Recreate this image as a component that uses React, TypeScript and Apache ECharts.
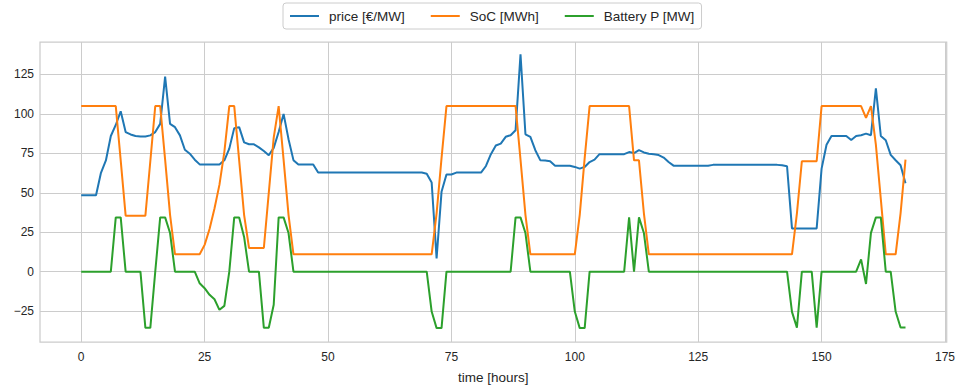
import React, { useEffect, useRef } from "react";
import * as echarts from "echarts";

const FONT = "'Liberation Sans', Arial, sans-serif";

const seriesNames = ["price [€/MW]", "SoC [MWh]", "Battery P [MW]"];
const seriesColors = ["#1f77b4", "#ff7f0e", "#2ca02c"];

const xTicks = [0, 25, 50, 75, 100, 125, 150, 175];
const yTicks = [-25, 0, 25, 50, 75, 100, 125];

// hour index of every sample (0 .. 167)
const hours = Array.from({ length: 168 }, (_, i) => i);

const price = [
  48.4, 48.4, 48.4, 48.4, 62.7, 70.5, 86, 93, 101.7, 88.5,
  87, 86, 85.7, 85.7, 86.4, 88.5, 93.7, 123.6, 93.7, 91.6,
  86.4, 77.3, 74.8, 71, 68, 68, 68, 68, 68, 70.6,
  78, 91, 91.6, 82, 80.8, 80.7, 78.8, 76.5, 73.8, 78.5,
  88.5, 100, 84, 70.7, 68, 68, 68, 68, 62.8, 62.8,
  62.8, 62.8, 62.8, 62.8, 62.8, 62.8, 62.8, 62.8, 62.8, 62.8,
  62.8, 62.8, 62.8, 62.8, 62.8, 62.8, 62.8, 62.8, 62.8, 62.8,
  62.1, 56.5, 8.4, 50.6, 61.6, 61.6, 62.8, 62.8, 62.8, 62.8,
  62.8, 62.8, 67, 74.5, 80, 81.2, 85.5, 86.5, 89.6, 137.8,
  87.1, 85.4, 77, 70.7, 70.4, 70, 67.2, 67.2, 67.2, 67.2,
  66.4, 65.3, 66.4, 69.5, 71, 74.5, 74.5, 74.5, 74.5, 74.5,
  74.5, 75.8, 75.2, 77, 75.6, 74.8, 74.4, 73.9, 72.3, 69.5,
  67.2, 67.2, 67.2, 67.2, 67.2, 67.2, 67.2, 67.2, 67.7, 67.7,
  67.7, 67.7, 67.7, 67.7, 67.7, 67.7, 67.7, 67.7, 67.7, 67.7,
  67.7, 67.7, 67.4, 66.8, 27.4, 27.4, 27.4, 27.4, 27.4, 27.4,
  65.3, 80.5, 86, 86, 86, 86, 83.5, 86, 86.5, 87.5,
  86.5, 116.2, 86, 83.3, 74, 70.6, 67.5, 56,
];

const soc = [
  105, 105, 105, 105, 105, 105, 105, 105, 70.5, 35.5,
  35.5, 35.5, 35.5, 35.5, 70, 105, 105, 71, 36, 11,
  11, 11, 11, 11, 11, 17, 27, 40, 55, 76,
  105, 105, 70.5, 36, 15, 15, 15, 15, 50, 85,
  105, 71, 36, 11, 11, 11, 11, 11, 11, 11,
  11, 11, 11, 11, 11, 11, 11, 11, 11, 11,
  11, 11, 11, 11, 11, 11, 11, 11, 11, 11,
  11, 11, 37, 72, 105, 105, 105, 105, 105, 105,
  105, 105, 105, 105, 105, 105, 105, 105, 105, 71,
  36, 11, 11, 11, 11, 11, 11, 11, 11, 11,
  11, 36, 72, 105, 105, 105, 105, 105, 105, 105,
  105, 105, 70.6, 70.6, 37, 11, 11, 11, 11, 11,
  11, 11, 11, 11, 11, 11, 11, 11, 11, 11,
  11, 11, 11, 11, 11, 11, 11, 11, 11, 11,
  11, 11, 11, 11, 11, 37, 70, 70, 70, 70,
  105, 105, 105, 105, 105, 105, 105, 105, 105, 97.5,
  105, 80.4, 46, 11, 11, 11, 37, 71,
];

const batteryP = [
  0, 0, 0, 0, 0, 0, 0, 34.4, 34.4, 0,
  0, 0, 0, -35.6, -35.6, 0, 34.4, 34.4, 24.5, 0,
  0, 0, 0, 0, -7.4, -10.5, -14.7, -17.5, -24.2, -21.7,
  0, 34.4, 34.4, 22, 0, 0, 0, -35.6, -35.6, -21,
  34.4, 34.4, 24.5, 0, 0, 0, 0, 0, 0, 0,
  0, 0, 0, 0, 0, 0, 0, 0, 0, 0,
  0, 0, 0, 0, 0, 0, 0, 0, 0, 0,
  0, -25.3, -35.8, -35.8, 0, 0, 0, 0, 0, 0,
  0, 0, 0, 0, 0, 0, 0, 0, 34.4, 34.4,
  24.5, 0, 0, 0, 0, 0, 0, 0, 0, 0,
  -25.3, -35.8, -35.8, 0, 0, 0, 0, 0, 0, 0,
  0, 34.4, 0, 34.4, 24.5, 0, 0, 0, 0, 0,
  0, 0, 0, 0, 0, 0, 0, 0, 0, 0,
  0, 0, 0, 0, 0, 0, 0, 0, 0, 0,
  0, 0, 0, 0, -25.5, -35.5, 0, 0, 0, -35.5,
  0, 0, 0, 0, 0, 0, 0, 0, 7.8, -7.8,
  24.6, 34.4, 34.4, 0, 0, -25.3, -35.4, -35.4,
];

const allSeries = [price, soc, batteryP];

export default function App() {
  const ref = useRef<HTMLDivElement>(null);

  useEffect(() => {
    if (!ref.current) return;
    const chart = echarts.init(ref.current, null, { renderer: "svg" });
    const textColor = "#262626";
    const gridColor = "#cccccc";
    chart.setOption({
      animation: false,
      backgroundColor: "#ffffff",
      textStyle: { fontFamily: FONT },
      legend: {
        top: 3,
        left: 283,
        data: seriesNames.map((name) => ({ name, icon: "rect" })),
        itemWidth: 29,
        itemHeight: 2,
        itemGap: 26,
        padding: [6, 7, 6, 7],
        borderColor: gridColor,
        borderWidth: 1,
        borderRadius: 3,
        backgroundColor: "#ffffff",
        textStyle: { fontSize: 13.5, color: textColor, fontFamily: FONT, padding: [0, 0, 0, 5] },
      },
      grid: {
        left: 40,
        right: 10,
        top: 42,
        bottom: 49,
        show: true,
        borderColor: gridColor,
        borderWidth: 1.25,
        backgroundColor: "transparent",
      },
      xAxis: {
        type: "value",
        min: -8.35,
        max: 175.35,
        name: "time [hours]",
        nameLocation: "middle",
        nameGap: 28,
        nameTextStyle: { fontSize: 13.5, color: textColor, fontFamily: FONT },
        axisLine: { show: false },
        axisTick: { show: false, customValues: xTicks },
        axisLabel: {
          customValues: xTicks,
          fontSize: 12,
          color: textColor,
          fontFamily: FONT,
          margin: 9,
        },
        splitLine: { show: true, lineStyle: { color: gridColor, width: 1 } },
      },
      yAxis: {
        type: "value",
        min: -44.6,
        max: 145.6,
        axisLine: { show: false },
        axisTick: { show: false, customValues: yTicks },
        axisLabel: {
          customValues: yTicks,
          fontSize: 12,
          color: textColor,
          fontFamily: FONT,
          margin: 6,
          formatter: (v: number) => String(v).replace("-", "\u2212"),
        },
        splitLine: { show: true, lineStyle: { color: gridColor, width: 1 } },
      },
      series: seriesNames.map((name, k) => ({
        name,
        type: "line",
        data: allSeries[k].map((v, i) => [hours[i], v]),
        showSymbol: false,
        symbol: "none",
        lineStyle: { width: 2, color: seriesColors[k] },
        itemStyle: { color: seriesColors[k] },
        emphasis: { disabled: true },
      })),
    });
    return () => chart.dispose();
  }, []);

  return <div ref={ref} style={{ width: 958, height: 391, position: "absolute", left: 0, top: 0 }} />;
}
